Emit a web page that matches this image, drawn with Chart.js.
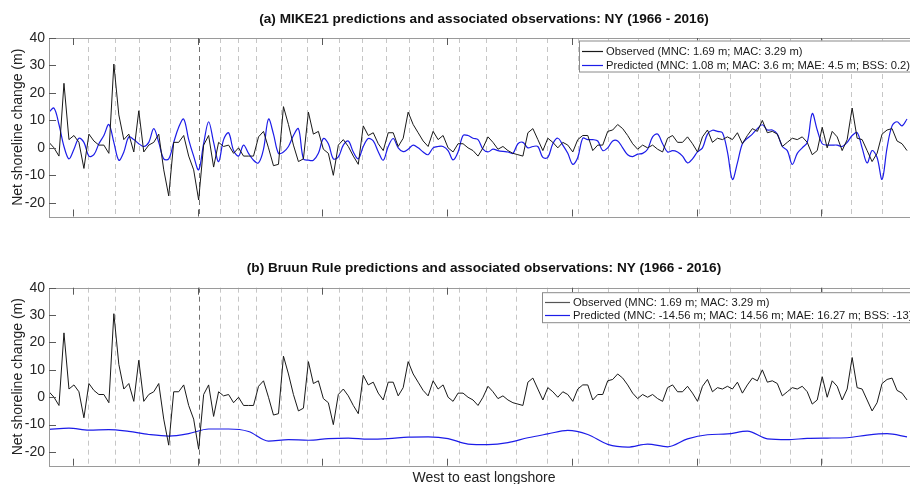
<!DOCTYPE html>
<html>
<head>
<meta charset="utf-8">
<script src="https://cdn.jsdelivr.net/npm/chart.js@4.4.0/dist/chart.umd.min.js"></script>
<style>
  html, body { margin: 0; padding: 0; background: #fff; overflow: hidden; }
  .panel { position: absolute; left: 0; width: 920px; height: 242px; }
</style>
</head>
<body>
<div class="panel" style="top:0"><canvas id="chartA"></canvas></div>
<div class="panel" style="top:242px"><canvas id="chartB"></canvas></div>
<script>
// transect index along the coast (west -> east), ticks have no labels in the figure
const xMax = 173.6;
const xTicks = [4.8, 29.8, 54.8, 79.8, 104.8, 129.8, 154.8];
const yTicks = [-20, -10, 0, 10, 20, 30, 40];

// region boundaries (dashed lines)
const boundaries = [7.8, 13.2, 18.05, 24.2, 30.0, 34.2, 37.9, 41.5, 46.5, 51.8, 58.1, 62.8, 67.5, 72.2, 76.9,
  82.2, 87.7, 93.7, 99.8, 106.1, 112.0, 118.1, 124.3, 130.4, 136.5, 142.5, 148.6, 154.9, 160.8, 166.9];
const darkBoundaries = [30.0];

// observed net shoreline change (m)
const observed = [
  2, 0, -3, 23.5, 3, 4.5, 2, -7.5, 5, 2.5,
  1, 1, -2, 30.5, 12, 3, 5, -1.5, 13.5, -1.5,
  1, 2, 5, -8, -17.5, 2, 2, 4.5, -3, -8,
  -19, 1, 4.5, -7, 2, 0.5, 1, -2, 0, -3,
  -3, -3, 4, 6, 0, -6.5, -6, 15, 8.5, 1,
  -5, -4, 13, 5, 6, -0.5, -2, -10, 1, 3,
  0.5, -3, -6, 8, 4.5, 5.5, 1.5, -1, 5.5, 5.5,
  0.5, 3.5, 13, 8.5, 5.5, 2.5, 0.5, 6, 3, 4.5,
  0, -1.5, 1.5, 1.5, 0, -1, -3, 0, 4, 2,
  -0.5, 0.5, -1, -2, -2.5, -3, 5.5, 7, 3, -1,
  3.5, 2, 0, 2, 1, -1.5, 3, 4.5, 4.5, -1,
  1, 1, 6, 6.5, 8.5, 7, 4.5, 1.5, -0.5, 1,
  0, 1, -0.5, -1.5, 3.5, 4.5, 2, 2, 4, 1.5,
  -1.5, 4, 6.5, 2, 3.5, 3, 4, 3, 5.5, 1.5,
  4.5, 7, 6, 10, 5.5, 6, 5, 0.5, 2, 3.5,
  3, 4, 2, -2.5, -1, 7.5, 0, 6, 4, -1,
  3, 14.5, 3.5, 3, -1, -5, -2, 5, 6.5, 7,
  2.5, 1.5, -1
];

// MIKE21 predicted change (m)
const mike21 = [
  13, 14.5, 8.5, 0.5, -4, -0.5, 3.5, 2, -3, -2.5,
  1.5, 4.5, 8.5, 2, -4.5, -1.5, 4, 3, 1.5, 0.5,
  2, 7, 2, -4, -4, 2, 7.5, 10.5, 3, -3,
  -8, 1.5, 9.5, 2, -5, 3, 5.5, -1, -3, 1,
  -2, -4.5, -5.5, -0.5, 10.5, 5, -2, -1.5, 0.5, 4.5,
  7, -4, -4.5, -4.5, -2, 3.4, 1.5, -4, -3.3, 1,
  2.5, -1.5, -4, 0.5, 3.4, 2.5, -1.4, -4.5, 0.5, 3.4,
  0, -1.4, -0.5, 1, 0, -1.5, -2.5, 0, 0.5, 0.5,
  -1, -4.4, -1.5, 4.5, 4.5, 3.5, 3, -0.5, -1.5, -0.5,
  -1, -1.3, -1.5, -2, 1.5, 2, 0, 0.5, 0.5, -3.5,
  -3.5, 1.5, 3.5, 1, -2, -6, -3.5, 3.5, 3, 3,
  2.5, -1, 0, 2.5, 2.5, 0, -2.5, -3.2, -2.3, -2,
  -0.5, 4, 5, 1.5, -1.5, -1, -1.5, -3, -5.5, -4,
  -1.5, 0, 5, 6.4, 6, 5.5, -1.5, -11.5, -5.5, 1.5,
  3.5, 5, 7, 8.4, 6.5, 6.5, 5, 0.5, -1, -6,
  -2, 0, 2, 12.5, 6.5, 1.5, 1, 1, 1, 0.5,
  2, 4.5, 5.5, 0, -5.5, -1, -3.5, -11.5, 0, 8,
  9.5, 8, 10.5
];

// Bruun Rule predicted change (m), every 4th transect
const bruunStep = 4;
const bruun = [
  -11.7, -11.3, -12.0, -11.8, -12.5, -13.6, -14.2, -13.3, -11.6, -11.6,
  -12.5, -16.0, -15.5, -15.7, -15.1, -14.9, -15.3, -15.1, -14.6, -14.5,
  -15.1, -17.1, -17.3, -16.6, -14.8, -13.4, -12.1, -13.6, -17.2, -18.2,
  -17.1, -18.1, -15.2, -13.7, -13.4, -12.4, -15.2, -15.5, -15.0, -14.9,
  -14.8, -13.8, -13.3, -14.5
];

const obsLabel = 'Observed (MNC: 1.69 m; MAC: 3.29 m)';
const mikeLabel = 'Predicted (MNC: 1.08 m; MAC: 3.6 m; MAE: 4.5 m; BSS: 0.2)';
const bruunLabel = 'Predicted (MNC: -14.56 m; MAC: 14.56 m; MAE: 16.27 m; BSS: -13)';

const FONT = '"Liberation Sans", Arial, Helvetica, sans-serif';
const BLUE = '#1c1ce8';
const BLACK = '#191919';

const decor = {
  id: 'decor',
  beforeDatasetsDraw(chart, args, o) {
    const {ctx, chartArea: a, scales: {x}} = chart;
    ctx.save();
    ctx.lineWidth = 1;
    ctx.setLineDash([5, 4]);
    boundaries.forEach(b => {
      const px = Math.round(x.getPixelForValue(b)) + 0.5;
      ctx.strokeStyle = darkBoundaries.includes(b) ? '#707070' : '#c6c6c6';
      ctx.beginPath();
      ctx.moveTo(px, a.top);
      ctx.lineTo(px, a.bottom);
      ctx.stroke();
    });
    ctx.restore();
  },
  afterDatasetsDraw(chart, args, o) {
    const {ctx, chartArea: a, scales: {x, y}} = chart;
    ctx.save();
    ctx.lineWidth = 1;
    // frame
    ctx.strokeStyle = '#9a9a9a';
    ctx.strokeRect(Math.round(a.left) + 0.5, Math.round(a.top) + 0.5,
      Math.round(a.right - a.left), Math.round(a.bottom - a.top));
    // inward ticks
    ctx.strokeStyle = '#5a5a5a';
    ctx.beginPath();
    yTicks.forEach(t => {
      const py = Math.round(y.getPixelForValue(t)) + 0.5;
      ctx.moveTo(a.left, py); ctx.lineTo(a.left + 7, py);
    });
    xTicks.forEach(t => {
      const px = Math.round(x.getPixelForValue(t)) + 0.5;
      ctx.moveTo(px, a.top); ctx.lineTo(px, a.top + 7);
      ctx.moveTo(px, a.bottom); ctx.lineTo(px, a.bottom - 7);
    });
    ctx.stroke();
    // legend box
    const L = o.legend;
    ctx.fillStyle = '#fff';
    ctx.fillRect(L.left, a.top + L.top, 400, L.height);
    ctx.strokeStyle = '#8a8a8a';
    ctx.strokeRect(L.left + 0.5, a.top + L.top + 0.5, 400, L.height);
    ctx.font = '11.2px ' + FONT;
    ctx.textBaseline = 'middle';
    ctx.textAlign = 'left';
    chart.data.datasets.forEach((ds, k) => {
      const ry = Math.round(a.top + L.top + L.rows[k]) + 0.5;
      ctx.strokeStyle = L.colors[k];
      ctx.lineWidth = 1.2;
      ctx.beginPath();
      ctx.moveTo(L.left + 3, ry); ctx.lineTo(L.textX - 3, ry);
      ctx.stroke();
      ctx.fillStyle = '#1a1a1a';
      ctx.fillText(ds.label, L.textX, ry + 0.5);
    });
    ctx.restore();
  },
  afterDraw(chart, args, o) {
    const {ctx, chartArea: a} = chart;
    ctx.save();
    ctx.fillStyle = '#111';
    ctx.textAlign = 'center';
    ctx.textBaseline = 'middle';
    ctx.font = 'bold 13.6px ' + FONT;
    ctx.fillText(o.title, o.titleX, o.titleY);
    ctx.font = '14px ' + FONT;
    ctx.fillStyle = '#222';
    if (o.xTitle) ctx.fillText(o.xTitle, o.titleX, o.xTitleY);
    ctx.translate(18, (a.top + a.bottom) / 2);
    ctx.rotate(-Math.PI / 2);
    ctx.fillText('Net shoreline change (m)', 0, 0);
    ctx.restore();
  }
};

function makePanel(id, datasets, pad, decorOpts) {
  return new Chart(document.getElementById(id), {
    type: 'line',
    data: { datasets: datasets },
    plugins: [decor],
    options: {
      responsive: true,
      maintainAspectRatio: false,
      animation: false,
      devicePixelRatio: 1,
      layout: { padding: pad },
      elements: { point: { radius: 0 } },
      plugins: {
        legend: { display: false },
        tooltip: { enabled: false },
        decor: decorOpts
      },
      scales: {
        x: { type: 'linear', min: 0, max: xMax, display: false },
        y: {
          min: -25, max: 40,
          afterFit: s => { s.width = 49; },
          afterBuildTicks: s => { s.ticks = yTicks.map(v => ({ value: v })); },
          grid: { display: false, drawTicks: false },
          border: { display: false },
          ticks: { padding: 4, color: '#262626', font: { family: FONT, size: 14 } }
        }
      }
    }
  });
}

const obsData = observed.map((v, i) => ({ x: i, y: v }));

makePanel('chartA', [
  { label: obsLabel, data: obsData, borderColor: BLACK, borderWidth: 1, tension: 0 },
  { label: mikeLabel, data: mike21.map((v, i) => ({ x: i, y: v })), borderColor: BLUE, borderWidth: 1.2, tension: 0.35 }
], { top: 38, bottom: 25.5, left: 0, right: 5 }, {
  title: '(a) MIKE21 predictions and associated observations: NY (1966 - 2016)',
  titleX: 484, titleY: 19,
  legend: { left: 579, top: 2.5, height: 31, textX: 606, rows: [10.5, 24], colors: [BLACK, BLUE] }
});

makePanel('chartB', [
  { label: obsLabel, data: obsData, borderColor: BLACK, borderWidth: 1, tension: 0 },
  { label: bruunLabel, data: bruun.map((v, k) => ({ x: k * bruunStep, y: v })), borderColor: BLUE, borderWidth: 1.2, cubicInterpolationMode: 'monotone' }
], { top: 45.7, bottom: 18.3, left: 0, right: 5 }, {
  title: '(b) Bruun Rule predictions and associated observations: NY (1966 - 2016)',
  titleX: 484, titleY: 26.5,
  xTitle: 'West to east longshore', xTitleY: 236,
  legend: { left: 542, top: 4.5, height: 30, textX: 573, rows: [9.5, 22.5], colors: ['#555555', BLUE] }
});
</script>
</body>
</html>
